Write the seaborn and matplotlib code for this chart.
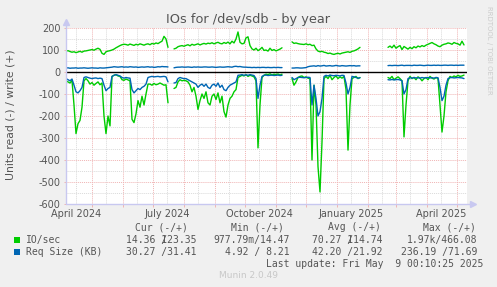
import numpy as np
import pandas as pd
import matplotlib
matplotlib.use("Agg")
import matplotlib.pyplot as plt
from matplotlib.patches import Rectangle
import seaborn as sns

nan = np.nan

# ---------------- data (one sample every 2 days, starting 2024-04-05) ----------------
start_date = "2024-04-05"
step_days = 2

write_io = [
    95, 97, 93, 90, 92, 88, 91, 94, 90, 95,
    96, 98, 100, 102, 99, 104, 108, 103, 85, 80,
    92, 95, 97, 100, 104, 110, 115, 120, 124, 126,
    125, 122, 127, 124, 121, 126, 123, 128, 125, 122,
    126, 128, 124, 130, 127, 132, 129, 135, 140, 162,
    150, 112, nan, nan, 105, 108, 115, 118, 120, 117,
    121, 124, 119, 126, 122, 125, 128, 123, 127, 130,
    127, 131, 129, 133, 128, 132, 135, 130, 128, 134,
    130, 136, 128, 140, 132, 150, 182, 135, 128, 130,
    155, 160, 120, 105, 100, 108, 97, 103, 112, 98,
    100, 95, 108, 98, 102, 96, 100, 104, 110, nan,
    nan, nan, nan, 137, 130, 132, 129, 127, 126, 125,
    128, 124, 126, 120, 122, 105, 95, 92, 94, 90,
    88, 84, 86, 82, 80, 83, 85, 82, 86, 88,
    90, 92, 89, 94, 96, 100, 105, 112, nan, nan,
    nan, nan, nan, nan, nan, nan, nan, nan, nan, nan,
    nan, 112, 118, 110, 122, 108, 115, 120, 102, 116,
    110, 104, 112, 106, 115, 110, 118, 114, 120, 116,
    122, 126, 130, 134, 128, 124, 118, 115, 122, 126,
    128, 132, 130, 126, 134, 130, 128, 122, 140, 123,
]

write_req = [
    18, 19, 17, 18, 18, 19, 17, 18, 18, 19,
    18, 17, 18, 19, 18, 18, 17, 19, 18, 18,
    19, 20, 21, 22, 24, 23, 22, 23, 24, 22,
    23, 22, 24, 23, 22, 23, 21, 22, 23, 22,
    23, 24, 22, 23, 21, 22, 24, 23, 25, 24,
    24, 23, nan, nan, 19, 21, 22, 22, 23, 22,
    22, 23, 22, 21, 23, 22, 23, 22, 22, 23,
    23, 22, 22, 23, 22, 21, 22, 23, 22, 22,
    23, 24, 23, 22, 25, 26, 24, 25, 23, 22,
    22, 21, 21, 20, 21, 20, 21, 20, 21, 21,
    20, 21, 20, 20, 21, 20, 21, 20, 20, nan,
    nan, nan, nan, 18, 18, 19, 19, 18, 18, 19,
    20, 24, 26, 27, 28, 26, 29, 27, 28, 30,
    27, 28, 29, 27, 28, 30, 28, 27, 29, 28,
    27, 28, 29, 28, 29, 27, 28, 28, nan, nan,
    nan, nan, nan, nan, nan, nan, nan, nan, nan, nan,
    nan, 29, 30, 29, 30, 30, 29, 30, 31, 29,
    30, 30, 30, 29, 31, 30, 30, 31, 30, 29,
    30, 31, 30, 30, 31, 30, 31, 30, 30, 31,
    31, 30, 31, 31, 30, 31, 30, 31, 31, 31,
]

read_io = [
    40, 45, 50, 38, 150, 280, 235, 220, 160, 40,
    30, 40, 55, 48, 60, 52, 45, 58, 50, 200,
    280, 200, 245, 20, 15, 12, 18, 20, 35, 38,
    32, 36, 40, 215, 230, 190, 130, 160, 110, 150,
    100, 55, 55, 60, 52, 58, 55, 50, 55, 60,
    58, 140, nan, nan, 75, 70, 45, 35, 40, 38,
    40, 45, 60, 90, 70, 110, 170, 130, 100, 120,
    90, 140, 150, 110, 100, 125, 95, 140, 110, 180,
    205, 150, 120, 110, 90, 80, 25, 20, 15, 18,
    12, 20, 15, 18, 22, 40, 345, 150, 25, 15,
    10, 12, 8, 14, 10, 12, 9, 14, 10, nan,
    nan, nan, nan, 30, 60, 45, 25, 20, 18, 25,
    22, 28, 30, 400, 60, 150, 430, 545, 318, 30,
    20, 30, 15, 35, 25, 18, 30, 22, 28, 20,
    80, 355, 150, 30, 25, 20, 30, 25, nan, nan,
    nan, nan, nan, nan, nan, nan, nan, nan, nan, nan,
    nan, 25, 30, 20, 35, 28, 22, 30, 40, 295,
    150, 40, 20, 30, 25, 35, 22, 28, 40, 30,
    25, 35, 20, 28, 32, 25, 30, 150, 273, 200,
    90, 40, 20, 25, 18, 22, 15, 20, 18, 14,
]

read_req = [
    30, 35, 40, 32, 60, 90, 95, 85, 70, 25,
    22, 25, 28, 30, 28, 27, 30, 28, 30, 60,
    85, 75, 70, 20, 15, 12, 15, 18, 25, 28,
    25, 27, 28, 80, 95, 85, 75, 80, 70, 65,
    55, 25, 22, 20, 22, 21, 20, 22, 21, 20,
    22, 45, nan, nan, 50, 48, 30, 25, 28, 30,
    30, 35, 40, 45, 50, 55, 70, 60, 55, 65,
    55, 70, 75, 60, 55, 65, 50, 70, 60, 80,
    85, 70, 60, 55, 50, 45, 15, 14, 12, 15,
    13, 15, 12, 14, 16, 30, 120, 60, 20, 15,
    14, 16, 15, 14, 16, 15, 14, 16, 15, nan,
    nan, nan, nan, 25, 35, 30, 25, 24, 25, 26,
    25, 24, 25, 150, 60, 120, 200, 180, 120, 20,
    15, 18, 14, 16, 17, 15, 16, 18, 15, 16,
    50, 100, 70, 20, 22, 25, 28, 26, nan, nan,
    nan, nan, nan, nan, nan, nan, nan, nan, nan, nan,
    nan, 35, 36, 34, 36, 35, 34, 36, 40, 100,
    80, 30, 26, 28, 25, 27, 26, 28, 25, 27,
    26, 25, 27, 26, 28, 25, 26, 70, 130, 110,
    60, 30, 26, 25, 27, 26, 25, 26, 27, 30,
]

title = "IOs for /dev/sdb - by year"
y_label = "Units read (-) / write (+)"
month_label_dates = ["2024-04-15", "2024-07-15", "2024-10-15", "2025-01-15", "2025-04-15"]
month_labels = ["April 2024", "July 2024", "October 2024", "January 2025", "April 2025"]
y_ticks = [200, 100, 0, -100, -200, -300, -400, -500, -600]

legend_names = ["IO/sec", "Req Size (KB)"]
legend_headers = ["Cur (-/+)", "Min (-/+)", "Avg (-/+)", "Max (-/+)"]
legend_io = ["14.36 /123.35", "977.79m/14.47", "70.27 /114.74", "1.97k/466.08"]
legend_req = ["30.27 /31.41", "4.92 / 8.21", "42.20 /21.92", "236.19 /71.69"]
last_update = "Last update: Fri May  9 00:10:25 2025"
footer = "Munin 2.0.49"
watermark = "RRDTOOL / TOBI OETIKER"

# ---------------- style ----------------
GREEN = "#00cc00"
BLUE = "#0066b3"
BG = "#f0f0f0"
TXT = "#555555"
MGRID = "#f0b4b4"
GRID = "#dadada"
AXIS = "#c8c8f0"

W, H = 497, 287
sns.set_theme(style="white")
plt.rcParams["font.family"] = ["DejaVu Sans"]
plt.rcParams["axes.unicode_minus"] = False

fig = plt.figure(figsize=(W / 100, H / 100), dpi=100, facecolor=BG)
ax = fig.add_axes([66 / W, 1 - 204 / H, 401 / W, 176 / H])
ax.set_facecolor("white")

dates = pd.date_range(start_date, periods=len(write_io), freq=f"{step_days}D")


def frame(vals, sign):
    s = pd.Series(vals, dtype=float) * sign
    seg = s.isna().cumsum()
    return pd.DataFrame({"date": dates, "value": s.values, "seg": seg.values}).dropna()


for vals, sign, col in [(read_io, -1, GREEN), (write_io, 1, GREEN),
                        (read_req, -1, BLUE), (write_req, 1, BLUE)]:
    sns.lineplot(data=frame(vals, sign), x="date", y="value", units="seg",
                 estimator=None, color=col, lw=1.0, ax=ax, legend=False, zorder=3)

ax.axhline(0, color="black", lw=1.0, zorder=2)

ax.set_xlim(pd.Timestamp("2024-04-05"), pd.Timestamp("2025-05-11"))
ax.set_ylim(-600, 200)
ax.set_xlabel("")
ax.set_ylabel("")

# y grid / ticks
ax.set_yticks(y_ticks)
ax.set_yticklabels([str(v) for v in y_ticks])
ax.set_yticks(np.arange(-550, 200, 100), minor=True)

# x grid / ticks
month_starts = pd.date_range("2024-05-01", "2025-05-01", freq="MS")
ax.set_xticks(month_starts)
ax.set_xticklabels([""] * len(month_starts))
firsts = pd.date_range("2024-04-01", "2025-04-01", freq="MS")
mids = pd.DatetimeIndex([pd.Timestamp(d.year, d.month, 15) for d in firsts])
ax.set_xticks(mids, minor=True)
lab_map = dict(zip(pd.to_datetime(month_label_dates), month_labels))
ax.set_xticklabels([lab_map.get(d, "") for d in mids], minor=True)

ax.grid(which="major", color=MGRID, ls=(0, (1, 1)), lw=0.7, zorder=1)
ax.grid(which="minor", color=GRID, ls=(0, (1, 1)), lw=0.7, zorder=1)
ax.set_axisbelow(True)

ax.tick_params(axis="y", which="major", length=1.5, width=0.7, color=MGRID,
               labelsize=7, labelcolor=TXT, pad=2.5, left=True)
ax.tick_params(axis="y", which="minor", length=0)
ax.tick_params(axis="x", which="major", length=2.2, width=0.7, color=MGRID,
               direction="out", bottom=True, pad=0)
ax.tick_params(axis="x", which="minor", length=0, labelsize=7, labelcolor=TXT, pad=3.6)

for sp in ax.spines.values():
    sp.set_visible(False)
ax.plot([0, 0], [0, 1.03], color=AXIS, lw=1.0, transform=ax.transAxes, clip_on=False, zorder=4)
ax.plot([0, 1.012], [0, 0], color=AXIS, lw=1.0, transform=ax.transAxes, clip_on=False, zorder=4)
ax.plot([0], [1.035], marker="^", ms=4, color=AXIS, transform=ax.transAxes, clip_on=False, zorder=4)
ax.plot([1.014], [0], marker=">", ms=4, color=AXIS, transform=ax.transAxes, clip_on=False, zorder=4)

# ---------------- texts ----------------
def fx(x):
    return x / W


def fy(y):
    return 1 - y / H


fig.text(fx(248), fy(19), title, ha="center", va="center", fontsize=9.3, color=TXT)
fig.text(fx(11), fy(115), y_label, ha="center", va="center", rotation=90, fontsize=7.8, color=TXT)
fig.text(fx(489), fy(50), watermark, ha="center", va="center", rotation=270, fontsize=5, color="#cccccc")

mono = dict(family="DejaVu Sans Mono", fontsize=7, color=TXT, va="center")
header_x = [135, 231, 328, 423]
col_right = [197, 290, 383, 477]
for hx, h in zip(header_x, legend_headers):
    fig.text(fx(hx), fy(227), h, ha="left", **mono)

fig.add_artist(Rectangle((fx(14), fy(243)), 6 / W, 6 / H, transform=fig.transFigure,
                         facecolor=GREEN, edgecolor="none"))
fig.add_artist(Rectangle((fx(14), fy(255)), 6 / W, 6 / H, transform=fig.transFigure,
                         facecolor=BLUE, edgecolor="none"))
fig.text(fx(26), fy(240), legend_names[0], ha="left", **mono)
fig.text(fx(26), fy(252), legend_names[1], ha="left", **mono)

for xr, s in zip(col_right, legend_io):
    if " /" in s:
        left, right = s.split(" /")
        fig.text(fx(xr), fy(240), left + " " + right, ha="right", **mono)
        over = " " * (len(left) + 1) + "/" + " " * (len(right) - 1)
        fig.text(fx(xr), fy(240), over, ha="right", **mono)
    else:
        fig.text(fx(xr), fy(240), s, ha="right", **mono)
for xr, s in zip(col_right, legend_req):
    fig.text(fx(xr), fy(252), s, ha="right", **mono)

fig.text(fx(483), fy(264), last_update, ha="right", **mono)
fig.text(fx(249), fy(276), footer, ha="center", va="center", fontsize=6.5, color="#c8c8c8")

fig.savefig("out.png", dpi=100, facecolor=BG)
